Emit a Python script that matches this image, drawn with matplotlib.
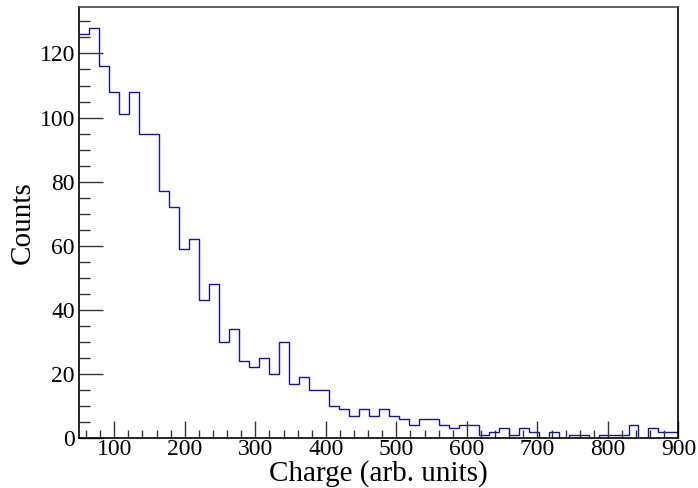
import numpy as np
import matplotlib
matplotlib.use('Agg')
from matplotlib import pyplot as plt
from matplotlib.ticker import MultipleLocator

# charge spectrum, 60 bins between 50 and 900
charge_min = 50
charge_max = 900
n_bins = 60
counts = [126, 128, 116, 108, 101, 108, 95, 95, 77, 72,
          59, 62, 43, 48, 30, 34, 24, 22, 25, 20,
          30, 17, 19, 15, 15, 10, 9, 7, 9, 7,
          9, 7, 6, 4, 6, 6, 4, 3, 4, 4,
          1, 2, 3, 1, 3, 2, 0, 2, 0, 1,
          1, 0, 1, 1, 1, 4, 0, 3, 2, 2]

plt.rcParams['font.family'] = ['Liberation Serif', 'DejaVu Serif']

fig = plt.figure(figsize=(6.98, 4.88), dpi=100)
ax = fig.add_axes([0.1132, 0.1025, 0.8588, 0.8825])

edges = np.linspace(charge_min, charge_max, n_bins + 1)
ax.stairs(counts, edges, baseline=None, color='#14149c', linewidth=1.0)

ax.set_xlim(charge_min, charge_max)
ax.set_ylim(0, 1.05 * max(counts))

ax.xaxis.set_major_locator(MultipleLocator(100))
ax.xaxis.set_minor_locator(MultipleLocator(20))
ax.yaxis.set_major_locator(MultipleLocator(20))
ax.yaxis.set_minor_locator(MultipleLocator(5))

ax.tick_params(which='both', direction='in', top=False, right=False,
               labelsize=17, width=1.0, color='#333333')
ax.tick_params(axis='x', which='major', length=12, pad=1)
ax.tick_params(axis='x', which='minor', length=6)
ax.tick_params(axis='y', which='major', length=17, pad=3)
ax.tick_params(axis='y', which='minor', length=8)

for side in ['left', 'bottom', 'top', 'right']:
    ax.spines[side].set_linewidth(1.2)
ax.spines['top'].set_color('#444444')

ax.set_xlabel('Charge (arb. units)', fontsize=21, labelpad=0)
ax.set_ylabel('Counts', fontsize=21, labelpad=3)

fig.savefig('out.png', dpi=100)
